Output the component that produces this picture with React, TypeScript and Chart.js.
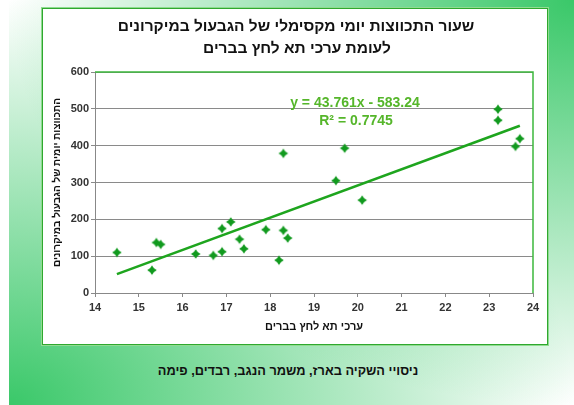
import React, { useEffect, useRef } from "react";
import { Chart, registerables } from "chart.js";

Chart.register(...registerables);

const titleLines = ["שעור התכווצות יומי מקסימלי של הגבעול במיקרונים", "לעומת ערכי תא לחץ בברים"];
const xAxisTitle = "ערכי תא לחץ בברים";
const yAxisTitle = "התכווצות יומית של הגבעול במיקרונים";
const caption = "ניסויי השקיה בארז, משמר הנגב, רבדים, פימה";

const pressureBars = [14.5, 15.3, 15.4, 15.5, 16.3, 16.7, 16.9, 16.9, 17.1, 17.3, 17.4, 17.9, 18.2, 18.3, 18.3, 18.4, 19.5, 19.7, 20.1, 23.2, 23.2, 23.6, 23.7];
const shrinkMicrons = [110, 62, 137, 132, 106, 102, 112, 175, 193, 146, 120, 172, 89, 379, 170, 149, 305, 393, 252, 499, 469, 398, 419];

const trendSlope = 43.761;
const trendIntercept = -583.24;
const equationText = "y = 43.761x - 583.24";
const r2Text = "R² = 0.7745";

const xTicks = { min: 14, max: 24, step: 1 };
const yTicks = { min: 0, max: 600, step: 100 };

const FONT = "'Liberation Sans', Arial, sans-serif";

function makeStar(color: string, r: number) {
  const s = Math.ceil(r * 2 + 2);
  const c = document.createElement("canvas");
  c.width = s;
  c.height = s;
  const ctx = c.getContext("2d")!;
  const cx = s / 2;
  const k = r * 0.4;
  ctx.beginPath();
  ctx.moveTo(cx, cx - r);
  ctx.lineTo(cx + k, cx - k);
  ctx.lineTo(cx + r, cx);
  ctx.lineTo(cx + k, cx + k);
  ctx.lineTo(cx, cx + r);
  ctx.lineTo(cx - k, cx + k);
  ctx.lineTo(cx - r, cx);
  ctx.lineTo(cx - k, cx - k);
  ctx.closePath();
  ctx.fillStyle = color;
  ctx.fill();
  return c;
}

export default function App() {
  const ref = useRef<HTMLCanvasElement | null>(null);

  useEffect(() => {
    if (!ref.current) return;
    const points = pressureBars.map((x, i) => ({ x, y: shrinkMicrons[i] }));
    const xMin = Math.min(...pressureBars);
    const xMax = Math.max(...pressureBars);
    const trend = [
      { x: xMin, y: trendSlope * xMin + trendIntercept },
      { x: xMax, y: trendSlope * xMax + trendIntercept },
    ];
    const star = makeStar("#119a1e", 4.8);

    const decor = {
      id: "decor",
      beforeDatasetsDraw(chart: any) {
        const { ctx, chartArea: a } = chart;
        ctx.save();
        ctx.strokeStyle = "#3cb83c";
        ctx.lineWidth = 1.5;
        ctx.beginPath();
        ctx.moveTo(a.left, a.top);
        ctx.lineTo(a.right, a.top);
        ctx.lineTo(a.right, a.bottom);
        ctx.stroke();
        ctx.restore();
      },
      afterDraw(chart: any) {
        const { ctx, chartArea: a, width } = chart;
        ctx.save();
        ctx.fillStyle = "#111";
        ctx.textAlign = "center";
        ctx.textBaseline = "middle";
        ctx.font = `bold 15.5px ${FONT}`;
        ctx.fillText(titleLines[0], width / 2 + 1, 19);
        ctx.fillText(titleLines[1], width / 2 + 2, 41);
        ctx.fillStyle = "#55b62a";
        ctx.font = `bold 14px ${FONT}`;
        const ex = a.left + 260;
        ctx.fillText(equationText, ex, a.top + 31);
        ctx.fillText(r2Text, ex + 1, a.top + 49);
        ctx.restore();
      },
    };

    const chart = new Chart(ref.current, {
      type: "scatter",
      data: {
        datasets: [
          {
            data: points,
            pointStyle: star as any,
            pointRadius: 5,
            backgroundColor: "#119a1e",
            borderColor: "#119a1e",
          },
          {
            data: trend,
            showLine: true,
            borderColor: "#1ea51e",
            borderWidth: 2.6,
            pointRadius: 0,
            fill: false,
          } as any,
        ],
      },
      options: {
        animation: false,
        responsive: false,
        layout: { padding: { top: 64, right: 15, bottom: 0, left: 0 } },
        plugins: { legend: { display: false }, tooltip: { enabled: false }, title: { display: false } },
        scales: {
          x: {
            type: "linear",
            min: xTicks.min,
            max: xTicks.max,
            ticks: { stepSize: xTicks.step, color: "#333", font: { family: FONT, size: 11, weight: "bold" }, padding: 4 },
            grid: { drawOnChartArea: false, drawTicks: true, tickLength: 4, color: "#888" },
            border: { color: "#888", width: 1 },
            title: { display: true, text: xAxisTitle, color: "#111", font: { family: FONT, size: 11, weight: "bold" }, padding: { top: 0, bottom: 11 } },
            afterFit: (s: any) => { s.height = 52; },
          },
          y: {
            type: "linear",
            min: yTicks.min,
            max: yTicks.max,
            ticks: { stepSize: yTicks.step, color: "#333", font: { family: FONT, size: 11, weight: "bold" }, padding: 2 },
            grid: { color: "#8a8a8a", lineWidth: 1, tickLength: 4 },
            border: { color: "#888", width: 1 },
            title: { display: true, text: yAxisTitle, color: "#111", font: { family: FONT, size: 10, weight: "bold" }, padding: { top: 9, bottom: 0 } },
            afterFit: (s: any) => { s.width = 53; },
          },
        },
      },
      plugins: [decor],
    });
    return () => chart.destroy();
  }, []);

  return (
    <div
      style={{
        position: "fixed",
        left: 9,
        top: 0,
        width: 565,
        height: 405,
        background:
          "radial-gradient(ellipse 100% 100% at 100% 0%, rgba(58,200,105,1) 0%, rgba(58,200,105,0) 100%), radial-gradient(ellipse 100% 100% at 0% 100%, rgba(58,200,105,1) 0%, rgba(58,200,105,0) 100%), #ffffff",
      }}
    >
      <div
        style={{
          position: "absolute",
          left: 33,
          top: 8,
          width: 506,
          height: 337,
          background: "#fff",
          boxShadow: "0 0 0 1px #8fdc8f",
        }}
      >
        <canvas ref={ref} width={506} height={337} style={{ display: "block", width: 506, height: 337 }} />
        <div
          style={{
            position: "absolute",
            inset: 0,
            border: "1.5px solid #2fa82f",
            pointerEvents: "none",
          }}
        />
      </div>
      <div
        dir="rtl"
        style={{
          position: "absolute",
          left: 0,
          width: 558,
          top: 363,
          textAlign: "center",
          fontFamily: FONT,
          fontWeight: "bold",
          fontSize: 12.8,
          color: "#111",
        }}
      >
        {caption}
      </div>
    </div>
  );
}
